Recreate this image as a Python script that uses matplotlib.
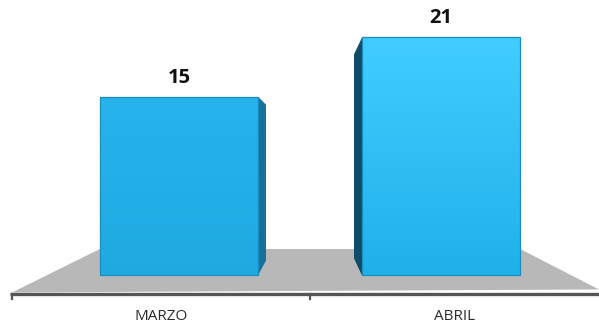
import numpy as np
import matplotlib.pyplot as plt
from matplotlib.patches import Polygon

months = ["MARZO", "ABRIL"]
values = [15, 21]

# pixel sizes in data units (x: category spacing, y: value units)
PX = 1 / 262
PY = 1 / 9.857

bar_width = 158 * PX
base = -31 * PY          # front face sinks into the floor
floor_top = -4.5 * PY
floor_bot = -48 * PY
axis_y = -50 * PY

fig = plt.figure(figsize=(5.99, 3.24), dpi=100)
ax = fig.add_axes([0, 0, 1, 1])
ax.set_xlim(-0.683, 1.603)
ax.set_ylim(-8.07, 24.8)
ax.axis("off")

x = np.arange(len(months))
edges = np.array([-0.637, 0.5, 1.603])

# grey floor in perspective
floor = Polygon([(edges[0], floor_bot),
                 (x[0] - bar_width / 2, floor_top),
                 (x[-1] + bar_width / 2, floor_top),
                 (edges[-1], floor_bot + 3 * PY)],
                closed=True, facecolor="#b8b8b8", edgecolor="none", zorder=1)
ax.add_patch(floor)

# category axis with tick marks between the months
ax.plot([edges[0] - 2 * PX, edges[-1]], [axis_y, axis_y], color="#555555", lw=2.4,
        solid_capstyle="butt", zorder=2)
for e in edges[:-1]:
    ax.plot([e, e], [axis_y, axis_y - 5 * PY], color="#555555", lw=1.6, zorder=2)

fronts = [("#27b4ec", "#1ea9e1"), ("#41cdff", "#20b0ea")]
sides = ["#16709a", "#0f4c68"]

bars = ax.bar(x, [v - base for v in values], bottom=base, width=bar_width,
              color="none", edgecolor="#1a8cbf", lw=0.9, zorder=4)

for i, (rect, v) in enumerate(zip(bars, values)):
    left = rect.get_x()
    right = left + rect.get_width()
    # vertical gradient on the front face
    top_c, bot_c = fronts[i]
    grad = np.linspace(0, 1, 256)[:, None]
    c0 = np.array(plt.matplotlib.colors.to_rgb(top_c))
    c1 = np.array(plt.matplotlib.colors.to_rgb(bot_c))
    img = c0[None, None, :] * (1 - grad[..., None]) + c1[None, None, :] * grad[..., None]
    im = ax.imshow(img, extent=[left, right, base, v], aspect="auto", zorder=3,
                   interpolation="bilinear")
    im.set_clip_path(rect)

    # dark side face facing the middle of the chart
    if i == 0:
        side = [(right, v), (right + 8 * PX, v - 8 * PY),
                (right + 8 * PX, base + 15 * PY), (right, base)]
    else:
        side = [(left, v), (left - 8 * PX, v - 17 * PY),
                (left - 8 * PX, base + 17 * PY), (left, base)]
    ax.add_patch(Polygon(side, closed=True, facecolor=sides[i],
                         edgecolor="none", zorder=3))

    ax.text(x[i], v + 14 * PY, str(v), ha="center", va="baseline",
            fontsize=14.5, fontweight="bold", family="Open Sans", color="#111111")

for i, m in enumerate(months):
    ax.text((edges[i] + edges[i + 1]) / 2, -7.66, m, ha="center", va="baseline",
            fontsize=11, family="Open Sans", color="#2b2b2b")

fig.savefig("out.png", dpi=100)
